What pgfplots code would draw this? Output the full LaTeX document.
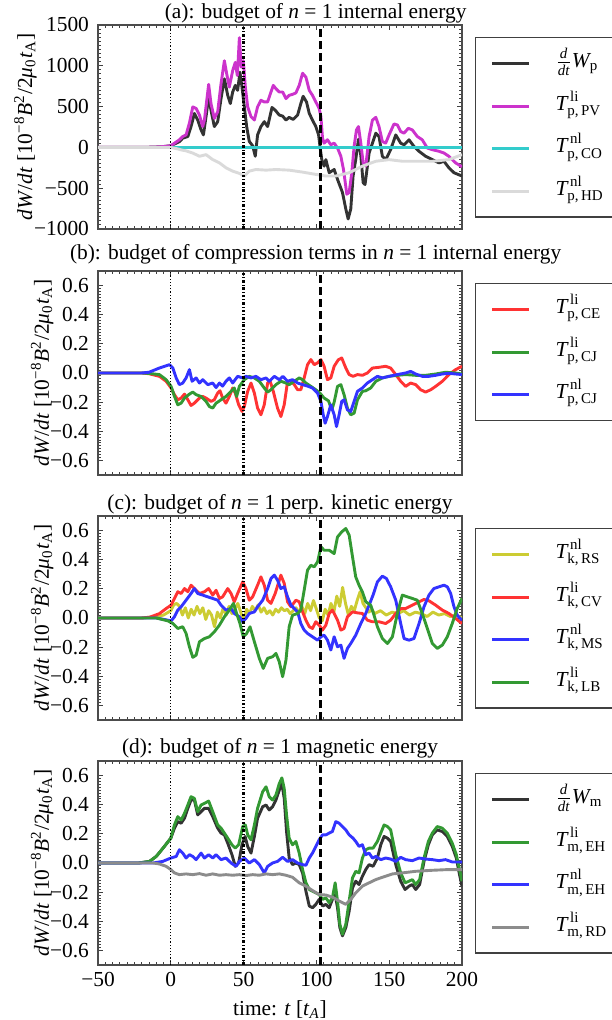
\documentclass[border=0pt]{standalone}
\usepackage{fontspec}
\setmainfont{Liberation Serif}
\usepackage{amsmath}
\usepackage{pgfplots}
\pgfplotsset{compat=1.18}

\definecolor{cK}{HTML}{333333}
\definecolor{cM}{HTML}{CC33CC}
\definecolor{cC}{HTML}{33CCCC}
\definecolor{cLG}{HTML}{DADADA}
\definecolor{cR}{HTML}{FF3333}
\definecolor{cG}{HTML}{339933}
\definecolor{cB}{HTML}{3333FF}
\definecolor{cY}{HTML}{CCCC33}
\definecolor{cGr}{HTML}{8C8C8C}

\newcommand{\Tt}[3]{$\text{\itshape T}^{\,\text{#1}}_{\text{#2,\,#3}}$}
\newcommand{\ddtW}[1]{${\textstyle\frac{\text{\itshape d}}{\text{\itshape dt}}}\text{\itshape W}_{\text{#1}}$}
\newcommand{\budgetlabel}{\textit{dW}/\textit{dt} [10\textsuperscript{−8}\textit{B}\textsuperscript{2}/2\textit{μ}\textsubscript{0}\textit{t}\textsubscript{A}]}

\pgfplotsset{
  panel/.style={
    scale only axis, width=182pt, height=102pt,
    xmin=-50, xmax=200, xtick={-50,0,50,100,150,200},
    minor x tick num=9, minor y tick num=9,
    tick align=inside, major tick length=2.6pt, minor tick length=1.3pt,
    every tick/.style={line width=0.45pt, black!75},
    axis line style={line width=0.6pt, black!70},
    yticklabel style={xshift=-1pt},
    legend cell align=left,
    legend image code/.code={\draw[##1] (0pt,0pt) -- (18.5pt,0pt);},
    legend style={at={(1,1)}, anchor=north west, xshift=6.5pt, yshift=-6pt,
      draw=black!75, line width=0.6pt, inner xsep=7.5pt, inner ysep=3.5pt,
      nodes={inner sep=0pt, text height=11.5pt, text depth=7.5pt},
      row sep=2.25pt, column sep=12.5pt},
    every axis plot/.append style={line width=1.45pt, line join=round},
    every axis title/.style={at={(0.5,1)}, anchor=base, inner sep=0pt},
    every axis y label/.style={rotate=90, anchor=base, inner sep=0pt},
  },
  vline/.style={forget plot, black, line width=#1},
}
\newcommand{\Lent}[1]{\makebox[34pt][l]{#1}}

\begin{document}
\begin{tikzpicture}[font=\fontsize{10.7}{12.8}\selectfont]
\useasboundingbox (0,0) rectangle (305.5pt,510pt);

% ---------------- (a) internal energy ----------------
\begin{axis}[panel, at={(49pt,395.5pt)}, anchor=south west,
  ymin=-1000, ymax=1500, ytick={-1000,-500,0,500,1000,1500},
  yticklabels={−1000,−500,0,500,1000,1500}, xticklabels={},
  title={(a): budget of \textit{n} = 1 internal energy},
  title style={at={(0.598,1)}, yshift=3.3pt},
  ylabel={\budgetlabel}, ylabel style={at={(axis description cs:-0.181,0.5)}}]
\addplot[cK] coordinates {(-50,0)(-25,0)(-20,1)(-15,2)(-10,5)(-5,10)(0,20)(5.9,70)(8.2,113)(11.7,133)(13.9,255)(16.2,416)(18.5,335)(20.8,214)(22.4,153)(24.2,376)(26.0,618)(27.6,456)(29.9,255)(32.2,315)(34.5,598)(36.8,840)(39.1,638)(40.9,537)(42.5,679)(44.3,760)(45.9,699)(47.5,921)(48.9,739)(50.5,497)(52.1,255)(53.9,73)(56.2,20)(58.0,-109)(59.6,153)(61.9,255)(64.2,315)(66.5,255)(69.5,489)(71.7,456)(74.5,396)(76.8,384)(79.1,335)(81.3,368)(84.1,343)(87.1,396)(89.3,537)(90.9,626)(93.2,557)(95.1,416)(97.3,335)(99.6,255)(101.5,153)(102.6,-8)(103.7,-150)(105.3,-230)(106.5,-150)(108.8,-311)(112.2,-271)(114.5,-392)(117.9,-553)(120.2,-755)(121.8,-877)(123.6,-755)(125.2,-351)(127.0,-150)(128.9,100)(130.5,-100)(132.1,-432)(133.4,-455)(136.2,-69)(140.8,174)(143.0,133)(145.3,-109)(147.6,-150)(151.0,-28)(154.5,153)(157.9,52)(160.2,32)(163.6,93)(167.0,12)(170.5,-48)(175.0,-109)(179.6,-150)(184.2,-190)(187.6,-170)(191.0,-250)(194.5,-311)(200,-351)};
\addlegendentry{\Lent{\ddtW{p}}}
\addplot[cM] coordinates {(-50,0)(-25,0)(-20,1)(-15,2)(-10,5)(-5,10)(0,20)(5.9,93)(8.2,133)(10.5,153)(12.8,300)(15.1,497)(17.4,477)(19.7,396)(21.9,255)(23.1,335)(24.7,578)(26.0,772)(27.6,537)(29.9,355)(32.2,436)(34.5,780)(36.8,1062)(38.4,900)(40.2,739)(42.5,941)(44.3,1042)(45.7,880)(47.1,1345)(48.4,982)(49.8,1062)(51.2,739)(52.8,497)(55.1,376)(57.4,335)(59.6,497)(61.9,578)(64.2,557)(66.5,557)(68.8,679)(70.4,760)(72.2,719)(74.5,679)(76.8,679)(79.1,598)(81.3,638)(83.6,650)(85.9,667)(88.2,760)(90.5,909)(92.8,860)(95.1,699)(97.3,638)(99.6,557)(101.9,477)(103.1,376)(104.2,113)(105.3,52)(107.6,93)(109.9,32)(112.2,52)(114.5,-8)(116.8,-109)(118.6,-271)(120.9,-574)(122.5,-553)(124.3,-311)(125.9,12)(127.5,214)(128.9,255)(130.5,52)(132.1,-190)(133.9,-230)(136.2,133)(138.5,335)(140.8,368)(143.0,255)(145.3,73)(147.6,52)(149.9,153)(153.3,287)(155.6,275)(157.9,194)(160.2,174)(163.1,234)(165.9,214)(169.3,133)(172.7,93)(176.2,-8)(179.6,-28)(184.2,-48)(187.6,-69)(191.0,-109)(195.6,-190)(200,-238)};
\addlegendentry{\Lent{\Tt{li}{p}{PV}}}
\addplot[cC] coordinates {(-50,0)(200,0)};
\addlegendentry{\Lent{\Tt{nl}{p}{CO}}}
\addplot[cLG] coordinates {(-50,0)(0,0)(5,-20)(8,-35)(10,-40)(15,-69)(19.7,-109)(24.2,-89)(28.8,-150)(33.4,-190)(37.9,-250)(42.5,-291)(47.1,-319)(50.5,-351)(53.9,-291)(58.5,-271)(65.4,-279)(72.2,-271)(81.3,-279)(90.5,-303)(99.6,-331)(106.5,-351)(113.3,-351)(122.5,-311)(131.6,-230)(140.8,-170)(149.9,-150)(159.0,-170)(168.2,-170)(179.6,-170)(191,-150)(200,-89)};
\addlegendentry{\Lent{\Tt{nl}{p}{HD}}}
\addplot[vline=0.6pt, dash pattern=on 0.6pt off 1pt] coordinates {(0,-1000)(0,1500)};
\addplot[vline=1.3pt, dash pattern=on 1.3pt off 1pt on 0.4pt off 1pt] coordinates {(50,-1000)(50,1500)};
\addplot[vline=1.6pt, dash pattern=on 4pt off 2pt] coordinates {(103,-1000)(103,1500)};
\end{axis}

% ---------------- (b) compression terms ----------------
\begin{axis}[panel, at={(49pt,272.5pt)}, anchor=south west,
  ymin=-0.7, ymax=0.7, ytick={-0.6,-0.4,-0.2,0,0.2,0.4,0.6},
  yticklabels={−0.6,−0.4,−0.2,0.0,0.2,0.4,0.6}, xticklabels={},
  title={(b): budget of compression terms in \textit{n} = 1 internal energy},
  title style={at={(0.598,1)}, yshift=5.8pt},
  ylabel={\budgetlabel}, ylabel style={at={(axis description cs:-0.135,0.5)}}]
\addplot[cR] coordinates {(-50,0)(-20,0)(-15,-0.005)(-7.8,-0.023)(-3.2,-0.057)(0.2,-0.103)(2.5,-0.149)(4.8,-0.184)(7.1,-0.172)(9.4,-0.145)(11.7,-0.184)(13.9,-0.223)(16.2,-0.207)(19.7,-0.172)(21.9,-0.161)(24.2,-0.172)(27.6,-0.195)(29.9,-0.184)(32.2,-0.138)(33.8,-0.122)(35.6,-0.172)(37.9,-0.207)(40.2,-0.161)(42.5,-0.103)(44.3,-0.138)(46.6,-0.218)(48.9,-0.264)(50.5,-0.23)(52.8,-0.126)(55.1,-0.069)(57.4,-0.138)(59.6,-0.241)(61.9,-0.287)(64.2,-0.218)(66.5,-0.069)(68.1,-0.053)(70.4,-0.126)(73.3,-0.241)(75.6,-0.299)(77.9,-0.218)(80.2,-0.057)(82.5,-0.057)(84.8,-0.08)(87.1,-0.115)(89.3,-0.115)(91.6,-0.034)(93.9,0.057)(96.2,0.092)(98.5,0.057)(100.8,0.069)(103.1,0.092)(105.3,0.046)(107.6,-0.046)(109.9,-0.034)(112.2,0.046)(115,0.09)(117.4,0.103)(120.2,0.034)(122.5,-0.011)(125.2,-0.023)(128.2,-0.011)(131.6,-0.016)(135,0)(138.5,0.034)(143,0.039)(147.6,0.046)(151,0.034)(154.5,-0.011)(157.9,-0.057)(161.3,-0.092)(164.7,-0.069)(168.2,-0.08)(171.6,-0.115)(175,-0.131)(178.5,-0.115)(181.9,-0.092)(186.5,-0.057)(191,-0.011)(195.6,0.023)(200,0.046)};
\addlegendentry{\Lent{\Tt{li}{p}{CE}}}
\addplot[cG] coordinates {(-50,0)(-20,0)(-15,-0.003)(-7.8,-0.011)(-3.2,-0.046)(0.2,-0.092)(2.5,-0.16)(4.8,-0.218)(7.1,-0.207)(9.4,-0.172)(12.8,-0.145)(15.1,-0.131)(17.4,-0.149)(20.8,-0.161)(24.2,-0.195)(26.5,-0.23)(28.8,-0.241)(31.1,-0.207)(34.5,-0.184)(37.9,-0.161)(41.4,-0.126)(43.6,-0.103)(45.2,-0.161)(47.1,-0.092)(50.5,-0.046)(53.9,-0.023)(57.4,-0.034)(60.8,-0.057)(64.2,-0.103)(66.5,-0.131)(68.8,-0.115)(72.2,-0.08)(75.6,-0.057)(79.1,-0.069)(81.3,-0.08)(84.8,-0.057)(88.2,-0.034)(90.5,-0.046)(92.8,-0.069)(96.2,-0.092)(99.6,-0.115)(102.4,-0.138)(105.3,-0.172)(108.3,-0.191)(110.6,-0.253)(112.2,-0.2)(114.5,-0.092)(116.8,-0.08)(119,-0.149)(121.3,-0.241)(123.6,-0.287)(125.9,-0.276)(128.2,-0.184)(131.6,-0.126)(133.9,-0.122)(137.3,-0.103)(140.8,-0.057)(145.3,-0.034)(149.9,-0.023)(155.6,-0.016)(161.3,-0.011)(168.2,-0.016)(175,-0.016)(181.9,-0.007)(188.7,0.005)(195.6,0)(200,-0.007)};
\addlegendentry{\Lent{\Tt{li}{p}{CJ}}}
\addplot[cB] coordinates {(-50,0)(-20,0)(-15,0.005)(-7.8,0.034)(-0.9,0.057)(1.4,0.034)(3.7,-0.034)(5.9,-0.08)(8.2,-0.069)(10.5,-0.034)(12.8,0.023)(14.6,-0.057)(17.4,-0.034)(19.7,-0.069)(21.9,-0.046)(25.4,-0.08)(28.8,-0.069)(31.1,-0.10)(33.4,-0.069)(35.6,-0.09)(37.9,-0.057)(40.2,-0.034)(42.5,-0.069)(45.9,-0.023)(49.4,-0.034)(51.6,-0.023)(55.1,-0.034)(58.5,-0.023)(61.9,-0.046)(65.4,-0.034)(67.6,-0.057)(71.1,-0.023)(74.5,-0.046)(77.0,-0.023)(80.2,-0.057)(83.6,-0.046)(87.1,-0.069)(90.5,-0.08)(93.9,-0.09)(97.3,-0.103)(100.8,-0.138)(103.1,-0.195)(104.7,-0.287)(106,-0.345)(107.6,-0.299)(109.9,-0.218)(112.2,-0.287)(113.8,-0.368)(115.6,-0.287)(117.4,-0.195)(119,-0.184)(121.3,-0.253)(123.6,-0.264)(125.9,-0.195)(128.2,-0.126)(131.6,-0.103)(135,-0.069)(138.5,-0.046)(141.9,-0.023)(145.3,-0.034)(149.9,-0.023)(155.6,-0.011)(161.3,0.0)(164.7,0.011)(168.2,-0.007)(172.7,-0.023)(177.3,-0.023)(181.9,-0.016)(186.5,-0.007)(191,-0.002)(195.6,-0.007)(200,-0.011)};
\addlegendentry{\Lent{\Tt{nl}{p}{CJ}}}
\addplot[vline=0.6pt, dash pattern=on 0.6pt off 1pt] coordinates {(0,-0.7)(0,0.7)};
\addplot[vline=1.3pt, dash pattern=on 1.3pt off 1pt on 0.4pt off 1pt] coordinates {(50,-0.7)(50,0.7)};
\addplot[vline=1.6pt, dash pattern=on 4pt off 2pt] coordinates {(103,-0.7)(103,0.7)};
\end{axis}

% ---------------- (c) perpendicular kinetic energy ----------------
\begin{axis}[panel, at={(49pt,150pt)}, anchor=south west,
  ymin=-0.7, ymax=0.7, ytick={-0.6,-0.4,-0.2,0,0.2,0.4,0.6},
  yticklabels={−0.6,−0.4,−0.2,0.0,0.2,0.4,0.6}, xticklabels={},
  title={(c): budget of \textit{n} = 1 perp. kinetic energy},
  title style={at={(0.5,1)}, yshift=3.1pt},
  ylabel={\budgetlabel}, ylabel style={at={(axis description cs:-0.135,0.5)}}]
\addplot[cY] coordinates {(-50,0)(-20,0)(-10,0.01)(-5,0.02)(0,0.05)(2,0.09)(4,0.1)(6,0.08)(8,0.02)(10,0.07)(12,0.0)(14,0.06)(16,0.02)(18,0.08)(20,0.03)(22,0.07)(24,-0.01)(26,0.05)(28,0.02)(30,-0.06)(32,0.04)(34,0.0)(36,0.07)(38,0.02)(40,0.08)(42,0.03)(44,0.06)(46,0.1)(48,0.04)(50,-0.02)(52,0.06)(54,0.03)(56,0.08)(58,0.05)(60,0.09)(62,0.04)(64,0.07)(66,0.03)(68,0.05)(70,0.02)(72,0.06)(74,0.04)(76,0.07)(78,0.05)(80,0.06)(82,0.03)(84,0.05)(86,0.07)(88,0.04)(90,0.08)(92,0.03)(94,0.1)(96,0.05)(98,0.12)(100,0.06)(102,0.0)(104,-0.02)(106,0.06)(108,0.02)(110,0.1)(112,0.04)(114,0.15)(116,0.08)(118,0.21)(120,0.1)(122,0.02)(124,0.08)(126,0.05)(128,0.12)(130,0.18)(132,0.1)(134,0.07)(136,0.04)(138,0.06)(140,0.03)(144,0.05)(148,0.02)(152,0.04)(156,0.03)(160,0.05)(164,0.02)(168,0.04)(172,0.03)(176,0.01)(180,0.04)(184,0.02)(188,0.03)(192,0.01)(196,0.02)(200,0.0)};
\addlegendentry{\Lent{\Tt{nl}{k}{RS}}}
\addplot[cR] coordinates {(-50,0)(-20,0)(-14.6,0.005)(-7.8,0.03)(-3.2,0.065)(0.2,0.088)(2.5,0.134)(4.8,0.18)(7.1,0.168)(9.4,0.202)(11.7,0.18)(13.9,0.225)(16.2,0.202)(19.7,0.168)(23.1,0.18)(26,0.202)(28.8,0.157)(31.1,0.19)(33.4,0.134)(35.6,0.145)(39.1,0.202)(41.4,0.168)(43.6,0.111)(45.9,0.168)(49.4,0.248)(51.6,0.202)(53.9,0.122)(56.2,0.145)(59.6,0.225)(61.9,0.282)(64.2,0.225)(66.5,0.122)(68.8,0.1)(71.7,0.168)(75.6,0.294)(77.9,0.237)(80.2,0.111)(82.5,0.077)(85.9,0.122)(88.2,0.111)(90.5,0.042)(92.8,-0.015)(95.1,-0.06)(97.3,-0.072)(99.6,-0.026)(101.9,-0.049)(104.2,-0.083)(106.5,-0.049)(108.8,0.031)(111,0.054)(114.5,-0.015)(116.8,-0.083)(119,-0.072)(121.3,0.008)(124.8,0.042)(128.2,0.035)(131.6,0.031)(135,-0.015)(138.5,-0.026)(143,-0.026)(147.6,-0.038)(151,-0.015)(154.5,0.031)(157.9,0.065)(161.3,0.065)(165.9,0.088)(170.5,0.111)(173.9,0.127)(177.3,0.118)(181.9,0.088)(186.5,0.054)(191,0.031)(195.6,-0.003)(200,-0.038)};
\addlegendentry{\Lent{\Tt{li}{k}{CV}}}
\addplot[cB] coordinates {(-50,0)(-10,0)(-2,-0.015)(0.2,-0.02)(2.5,0.008)(4.8,0.054)(7.1,0.077)(10.5,0.122)(13.9,0.168)(16.2,0.202)(18.5,0.168)(21.9,0.157)(25.4,0.145)(28.8,0.134)(32.2,0.122)(34.5,0.088)(37.9,0.054)(41.4,0.065)(43.6,0.031)(47.1,0.008)(49.4,-0.026)(51.6,-0.003)(53.9,0.031)(57.4,0.042)(59.6,0.077)(63.1,0.122)(66.5,0.202)(68.8,0.271)(71.1,0.294)(73.3,0.259)(75.6,0.202)(77.9,0.214)(80.2,0.145)(82.5,0.088)(84.8,0.065)(87.1,0.042)(89.3,-0.038)(91.6,-0.083)(93.9,-0.106)(97.3,-0.129)(100.8,-0.152)(103.1,-0.129)(105.3,-0.118)(107.6,-0.152)(109.9,-0.22)(112.2,-0.129)(114.5,-0.198)(116.8,-0.186)(119,-0.277)(121.3,-0.209)(123.6,-0.175)(127,-0.118)(130.5,-0.038)(133.9,0.031)(136.2,0.088)(138.9,0.157)(141.9,0.248)(145.3,0.287)(148.1,0.271)(151,0.214)(154.5,0.122)(157.9,-0.038)(160.2,-0.141)(163.6,-0.152)(167,-0.141)(170.5,-0.038)(173.9,0.077)(177.3,0.157)(180.7,0.202)(184.2,0.214)(187.6,0.225)(189.9,0.214)(192.2,0.168)(194.5,0.077)(196.7,0.019)(200,-0.015)};
\addlegendentry{\Lent{\Tt{nl}{k}{MS}}}
\addplot[cG] coordinates {(-50,0)(-10,0)(-2,-0.02)(1.4,-0.038)(4.8,-0.072)(8.2,-0.06)(10.5,-0.106)(12.8,-0.198)(15.1,-0.27)(17.4,-0.255)(19.7,-0.163)(23.1,-0.141)(26.5,-0.129)(29.9,-0.095)(33.4,-0.049)(36.8,0.008)(40.2,0.054)(43,0.1)(45.2,0.031)(47.5,-0.038)(49.8,-0.129)(52.1,-0.106)(54.4,-0.06)(57.4,-0.163)(60.8,-0.277)(63.5,-0.346)(66.5,-0.277)(69.9,-0.266)(72.2,-0.243)(74.5,-0.3)(76.8,-0.403)(79.1,-0.289)(81.3,-0.06)(83.6,0.019)(87.1,0.031)(89.3,0.054)(91.6,0.191)(93.9,0.328)(96.2,0.362)(98.5,0.351)(100.8,0.385)(103.1,0.488)(105.3,0.465)(108.8,0.465)(112.2,0.442)(114.5,0.556)(117.4,0.591)(120.2,0.614)(122.5,0.568)(124.8,0.42)(127,0.282)(129.3,0.225)(131.6,0.179)(133.9,0.111)(137.3,0.088)(139.6,0.019)(141.9,-0.06)(145.3,-0.141)(148.8,-0.175)(152.2,-0.129)(155.6,0.031)(159,0.157)(162.5,0.145)(165.9,0.134)(169.3,0.122)(172.7,0.031)(176.2,-0.072)(179.6,-0.175)(183,-0.209)(186.5,-0.186)(189.9,-0.129)(193.3,-0.038)(196.7,0.065)(200,0.134)};
\addlegendentry{\Lent{\Tt{li}{k}{LB}}}
\addplot[vline=0.6pt, dash pattern=on 0.6pt off 1pt] coordinates {(0,-0.7)(0,0.7)};
\addplot[vline=1.3pt, dash pattern=on 1.3pt off 1pt on 0.4pt off 1pt] coordinates {(50,-0.7)(50,0.7)};
\addplot[vline=1.6pt, dash pattern=on 4pt off 2pt] coordinates {(103,-0.7)(103,0.7)};
\end{axis}

% ---------------- (d) magnetic energy ----------------
\begin{axis}[panel, at={(49pt,27.5pt)}, anchor=south west,
  ymin=-0.7, ymax=0.7, ytick={-0.6,-0.4,-0.2,0,0.2,0.4,0.6},
  yticklabels={−0.6,−0.4,−0.2,0.0,0.2,0.4,0.6},
  xticklabels={−50,0,50,100,150,200},
  title={(d): budget of \textit{n} = 1 magnetic energy},
  title style={at={(0.5,1)}, yshift=3.5pt},
  ylabel={\budgetlabel}, ylabel style={at={(axis description cs:-0.135,0.5)}},
  xlabel={time: \textit{t} [\textit{t}\textsubscript{\textit{A}}]}]
\addplot[cK] coordinates {(-50,0)(-22,0)(-14.6,0.011)(-10,0.045)(-5.5,0.1)(0,0.17)(2.5,0.239)(4.8,0.284)(7.1,0.273)(9.4,0.307)(11.7,0.375)(13.9,0.432)(16.2,0.432)(18.5,0.33)(20.8,0.352)(23.1,0.375)(26,0.375)(28.8,0.318)(32.2,0.239)(34.5,0.205)(36.8,0.193)(39.1,0.136)(42,0.057)(44.3,-0.023)(46.6,0.0)(48.9,0.125)(51,0.182)(52.8,0.114)(55.1,0.068)(57.4,0.182)(59.6,0.307)(63.1,0.386)(65.4,0.398)(67.6,0.364)(69.9,0.386)(72.2,0.432)(74.5,0.5)(76.3,0.545)(77.9,0.443)(79.5,0.216)(81.3,0.034)(83.6,-0.011)(85.9,0)(88.2,-0.011)(90.5,-0.068)(92.8,-0.193)(95.1,-0.295)(97.3,-0.307)(99.6,-0.284)(101.9,-0.25)(104.2,-0.295)(106.5,-0.284)(108.8,-0.307)(111,-0.25)(112.9,-0.216)(114.5,-0.307)(116.1,-0.443)(117.9,-0.5)(120.2,-0.443)(122.5,-0.33)(124.8,-0.17)(127,-0.125)(129.3,-0.148)(131.6,-0.091)(133.9,-0.045)(136.2,-0.011)(138.9,-0.023)(141.9,0.034)(144.2,0.125)(146.5,0.182)(148.8,0.17)(151,0.148)(154.5,-0.011)(157.9,-0.125)(160.9,-0.182)(163.6,-0.159)(165.9,-0.148)(168.2,-0.182)(170.9,-0.148)(173.9,0.011)(176.9,0.125)(179.6,0.193)(183,0.227)(186.5,0.216)(189.9,0.182)(193.3,0.114)(196.1,0.034)(198.3,-0.08)(200,-0.159)};
\addlegendentry{\Lent{\ddtW{m}}}
\addplot[cG] coordinates {(-50,0)(-22,0)(-14.6,0.011)(-10,0.045)(-5.5,0.1)(0,0.17)(2.5,0.261)(4.8,0.318)(7.1,0.295)(9.4,0.341)(11.7,0.398)(13.9,0.455)(16.2,0.443)(18.5,0.352)(20.8,0.398)(23.1,0.409)(26,0.425)(28.8,0.352)(32.2,0.261)(34.5,0.239)(36.8,0.205)(39.1,0.17)(42,0.125)(44.3,0.102)(46.6,0.125)(49.4,0.25)(51.2,0.261)(52.8,0.193)(55.1,0.159)(57.4,0.261)(59.6,0.375)(63.1,0.489)(65.4,0.523)(67.6,0.455)(69.9,0.432)(72.2,0.466)(74.5,0.545)(76.3,0.584)(77.9,0.511)(79.5,0.33)(81.3,0.17)(83.6,0.125)(85.9,0.148)(88.2,0.068)(90.5,-0.045)(92.8,-0.136)(95.1,-0.182)(97.3,-0.193)(99.6,-0.205)(101.9,-0.216)(104.2,-0.25)(106.5,-0.239)(108.8,-0.273)(111,-0.239)(112.9,-0.136)(114.5,-0.261)(116.1,-0.42)(117.9,-0.489)(120.2,-0.42)(122.5,-0.261)(124.8,-0.102)(127,-0.057)(129.3,-0.068)(131.6,0.034)(133.9,0.091)(136.2,0.102)(138.9,0.102)(141.9,0.148)(144.2,0.205)(146.5,0.261)(148.8,0.25)(151,0.227)(154.5,0.057)(157.9,-0.068)(160.9,-0.136)(163.6,-0.125)(165.9,-0.114)(168.2,-0.148)(170.9,-0.114)(173.9,0.034)(176.9,0.148)(179.6,0.205)(183,0.25)(186.5,0.239)(189.9,0.205)(193.3,0.136)(196.1,0.057)(198.3,-0.045)(200,-0.125)};
\addlegendentry{\Lent{\Tt{li}{m}{EH}}}
\addplot[cB] coordinates {(-50,0)(-12,0)(-5.5,0.011)(0,0.034)(3.7,0.045)(5.9,0.091)(8.2,0.068)(10.5,0.034)(12.8,0.057)(15.1,0.045)(17.4,0.023)(20.8,0.068)(23.1,0.034)(26,0.057)(28.8,0.034)(31.1,0.057)(34.5,0.023)(37.9,0.034)(41.4,0)(44.8,-0.023)(47.1,0.011)(50.5,0.034)(53.9,0)(57.4,0.023)(60.8,-0.011)(64.2,-0.068)(66.5,-0.023)(69.9,0)(73.3,0.011)(76.8,0.039)(80.2,0.011)(83.6,0.023)(87.1,0)(90.5,-0.011)(92.8,-0.016)(95.1,0.034)(97.3,0.068)(99.6,0.114)(101.9,0.159)(104.2,0.193)(106.5,0.193)(108.8,0.205)(111,0.216)(113.3,0.284)(115.6,0.273)(117.9,0.25)(120.2,0.227)(122.5,0.193)(125.2,0.17)(127,0.148)(129.3,0.114)(131.6,0.125)(133.9,0.057)(136.2,0.068)(138.5,0.034)(140.8,0.045)(144.2,0.023)(147.6,0.034)(151,0.027)(154.5,0.011)(157.9,0.039)(161.3,0.023)(165.9,0.016)(170.5,0.034)(175,0.027)(179.6,0.023)(184.2,0.016)(188.7,0.023)(193.3,0.007)(200,0.007)};
\addlegendentry{\Lent{\Tt{nl}{m}{EH}}}
\addplot[cGr] coordinates {(-50,0)(-12,0)(-7.8,-0.007)(-3.2,-0.023)(0,-0.045)(2.5,-0.068)(5.9,-0.08)(10.5,-0.075)(15.1,-0.08)(19.7,-0.073)(24.2,-0.084)(28.8,-0.075)(33.4,-0.084)(37.9,-0.08)(42.5,-0.084)(47.1,-0.08)(51.6,-0.086)(56.2,-0.08)(60.8,-0.084)(65.4,-0.075)(69.9,-0.08)(74.5,-0.075)(79.1,-0.084)(83.6,-0.098)(88.2,-0.136)(92.8,-0.159)(97.3,-0.189)(101.9,-0.216)(106.5,-0.22)(111,-0.234)(115.6,-0.261)(120.2,-0.284)(123.6,-0.25)(127,-0.205)(131.6,-0.159)(136.2,-0.136)(140.8,-0.114)(145.3,-0.098)(152.2,-0.075)(159,-0.068)(168.2,-0.057)(179.6,-0.05)(191,-0.045)(200,-0.045)};
\addlegendentry{\Lent{\Tt{li}{m}{RD}}}
\addplot[vline=0.6pt, dash pattern=on 0.6pt off 1pt] coordinates {(0,-0.7)(0,0.7)};
\addplot[vline=1.3pt, dash pattern=on 1.3pt off 1pt on 0.4pt off 1pt] coordinates {(50,-0.7)(50,0.7)};
\addplot[vline=1.6pt, dash pattern=on 4pt off 2pt] coordinates {(103,-0.7)(103,0.7)};
\end{axis}
\end{tikzpicture}
\end{document}
